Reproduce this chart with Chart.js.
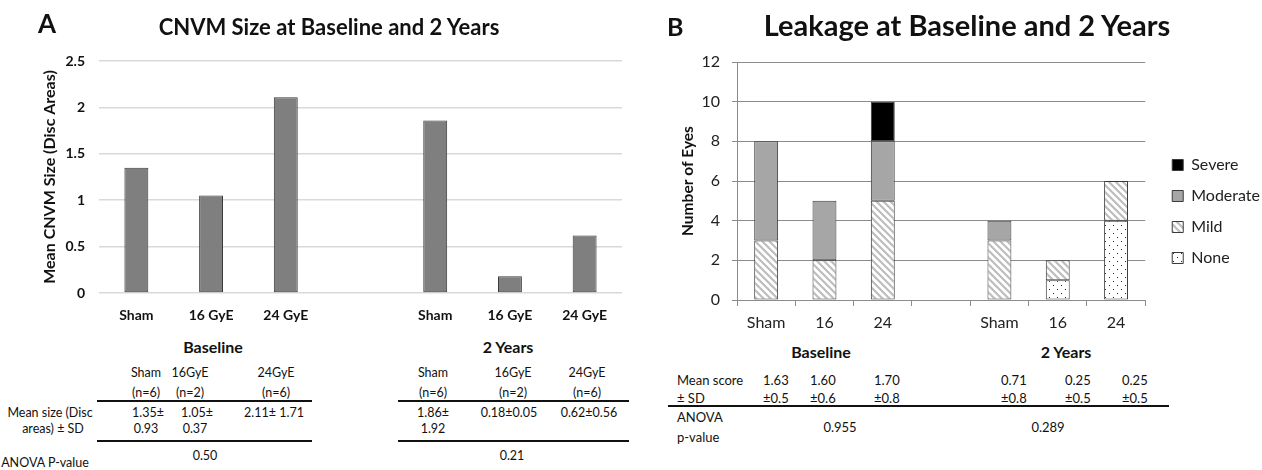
<!DOCTYPE html>
<html>
<head>
<meta charset="utf-8">
<script src="https://cdn.jsdelivr.net/npm/chart.js@4.4.1/dist/chart.umd.min.js"></script>
<style>
  html, body { margin:0; padding:0; background:#fff; }
  #wrap { position:relative; width:1262px; height:470px; overflow:hidden; background:#fff; font-family:Lato, sans-serif; color:#111; }
  canvas { position:absolute; }
  .t { position:absolute; white-space:nowrap; line-height:1; }
  .hr { position:absolute; background:#111; }
</style>
</head>
<body>
<div id="wrap">
  <canvas id="cA" width="640" height="330" style="left:0;top:0"></canvas>
  <canvas id="cB" width="622" height="340" style="left:640px;top:0"></canvas>
</div>
<script>
// ---------- Panel A data ----------
const categoriesA = ['Sham', '16 GyE', '24 GyE', '', 'Sham', '16 GyE', '24 GyE'];
const cnvmMeanSize = [1.35, 1.05, 2.11, null, 1.86, 0.18, 0.62];
const yTickLabelsA = ['0', '0.5', '1', '1.5', '2', '2.5'];

// ---------- Panel B data ----------
const categoriesB = ['Sham', '16', '24', '', 'Sham', '16', '24'];
const leakNone     = [0, 0, 0, null, 0, 1, 4];
const leakMild     = [3, 2, 5, null, 3, 1, 2];
const leakModerate = [5, 3, 3, null, 1, 0, 0];
const leakSevere   = [0, 0, 2, null, 0, 0, 0];
const yTickLabelsB = ['0', '2', '4', '6', '8', '10', '12'];

// ---------- Table texts ----------
const periods = ['Baseline', '2 Years'];
const tableAHeaders = ['Sham', '16GyE', '24GyE'];
const tableAN = ['(n=6)', '(n=2)', '(n=6)'];
const tableAMeanBaseline = ['1.35±', '1.05±', '2.11± 1.71'];
const tableASdBaseline = ['0.93', '0.37', ''];
const tableAMean2y = ['1.86±', '0.18±0.05', '0.62±0.56'];
const tableASd2y = ['1.92', '', ''];
const anovaA = ['0.50', '0.21'];
const tableBMean = ['1.63', '1.60', '1.70', '0.71', '0.25', '0.25'];
const tableBSd = ['±0.5', '±0.6', '±0.8', '±0.8', '±0.5', '±0.5'];
const anovaB = ['0.955', '0.289'];

const wrap = document.getElementById('wrap');
function txt(s, x, y, size, bold, align) {
  const d = document.createElement('div');
  d.className = 't';
  d.textContent = s;
  d.style.left = x + 'px';
  d.style.top = y + 'px';
  d.style.fontSize = size + 'px';
  d.style.fontWeight = bold ? '700' : '400';
  d.style.transform = align === 'left' ? 'translate(0,-50%)' : 'translate(-50%,-50%)';
  wrap.appendChild(d);
}
function hr(x1, x2, y, h) {
  const d = document.createElement('div');
  d.className = 'hr';
  d.style.left = x1 + 'px'; d.style.width = (x2 - x1) + 'px';
  d.style.top = y + 'px'; d.style.height = h + 'px';
  wrap.appendChild(d);
}

// Panel labels and titles
txt('A', 38, 23, 26, true, 'left');
txt('CNVM Size at Baseline and 2 Years', 329, 27, 22, true);
txt('B', 667, 26, 25, true, 'left');
txt('Leakage at Baseline and 2 Years', 967, 24, 29, true);

// Table A
const fsA = 12.5;
txt(periods[0], 213, 347, 16, true);
txt(periods[1], 508, 347, 16, true);
const colA1 = [146, 190, 276], valA1 = [148, 197, 274];
const colA2 = [433, 513, 587], valA2 = [433, 509, 589];
tableAHeaders.forEach((h, i) => {
  txt(h, colA1[i], 373, fsA, false); txt(tableAN[i], colA1[i], 393, fsA, false);
  txt(h, colA2[i], 373, fsA, false); txt(tableAN[i], colA2[i], 393, fsA, false);
  txt(tableAMeanBaseline[i], valA1[i], 413, fsA, false);
  txt(tableASdBaseline[i], valA1[i] - 2, 429, fsA, false);
  txt(tableAMean2y[i], valA2[i], 413, fsA, false);
  txt(tableASd2y[i], valA2[i], 429, fsA, false);
});
hr(97, 312, 400, 2); hr(97, 312, 440, 2);
hr(398, 629, 400, 2); hr(398, 629, 440, 2);
txt('Mean size (Disc', 50, 413, fsA, false);
txt('areas) ± SD', 53, 429, fsA, false);
txt('ANOVA P-value', 45, 463, fsA, false);
txt(anovaA[0], 205, 456, fsA, false);
txt(anovaA[1], 512, 456, fsA, false);

// Table B
txt(periods[0], 821, 352, 16, true);
txt(periods[1], 1066, 352, 16, true);
txt('Mean score', 677, 380, 13, false, 'left');
txt('± SD', 677, 398, 13, false, 'left');
const colB = [763, 810, 874, 1001, 1065, 1122];
tableBMean.forEach((m, i) => {
  txt(m, colB[i], 380, 13, false, 'left');
  txt(tableBSd[i], colB[i], 398, 13, false, 'left');
});
hr(668, 1169, 405, 2);
txt('ANOVA', 677, 417, 13, false, 'left');
txt('p-value', 677, 437, 13, false, 'left');
txt(anovaB[0], 840, 427, 13, false);
txt(anovaB[1], 1048, 427, 13, false);

// ---------- Chart A ----------
Chart.defaults.font.family = 'Lato, sans-serif';
new Chart(document.getElementById('cA'), {
  type: 'bar',
  data: {
    labels: categoriesA,
    datasets: [{
      data: cnvmMeanSize,
      backgroundColor: '#7f7f7f',
      borderColor: '#3a3a3a',
      borderWidth: 1,
      borderSkipped: false,
      barPercentage: 0.32,
      categoryPercentage: 1
    }]
  },
  options: {
    responsive: false,
    animation: false,
    layout: { padding: { top: 61, right: 18, bottom: 0, left: 0 } },
    plugins: { legend: { display: false }, tooltip: { enabled: false } },
    scales: {
      x: {
        grid: { display: false },
        border: { display: false },
        ticks: { font: { size: 14, weight: 'bold' }, color: '#111', padding: 6, maxRotation: 0, autoSkip: false },
        afterFit(s) { s.height = 37; }
      },
      y: {
        min: 0, max: 2.5,
        ticks: { stepSize: 0.5, font: { size: 14, weight: 'bold' }, color: '#111', padding: 14,
                 callback: (v, i) => yTickLabelsA[i] },
        grid: { color: '#d9d9d9', lineWidth: 1.5, drawTicks: false },
        border: { display: false },
        title: { display: true, text: 'Mean CNVM Size (Disc Areas)', color: '#111',
                 font: { size: 16, weight: 'bold' }, padding: { top: 40, bottom: 0 } },
        afterFit(s) { s.width = 99; }
      }
    }
  }
});

// ---------- Chart B ----------
function hatchPattern() {
  const s = 7, c = document.createElement('canvas');
  c.width = s; c.height = s;
  const g = c.getContext('2d');
  g.fillStyle = '#fff'; g.fillRect(0, 0, s, s);
  g.strokeStyle = '#bdbdbd'; g.lineWidth = 2.2;
  g.beginPath();
  g.moveTo(-1, -1); g.lineTo(s + 1, s + 1);
  g.moveTo(-1, s - 1); g.lineTo(1, s + 1);
  g.moveTo(s - 1, -1); g.lineTo(s + 1, 1);
  g.stroke();
  return g.createPattern(c, 'repeat');
}
function dotPattern() {
  const s = 8, c = document.createElement('canvas');
  c.width = s; c.height = s;
  const g = c.getContext('2d');
  g.fillStyle = '#fff'; g.fillRect(0, 0, s, s);
  g.fillStyle = '#222';
  g.fillRect(1, 1, 1, 1); g.fillRect(5, 5, 1, 1);
  return g.createPattern(c, 'repeat');
}

const legendNudge = {
  id: 'legendNudge',
  afterLayout(chart, args, opts) {
    const l = chart.legend; if (!l) return;
    l.left += opts.dx; l.right += opts.dx;
    l.top += opts.dy; l.bottom += opts.dy;
  }
};

const segStyle = { borderColor: '#3a3a3a', borderWidth: 1, borderSkipped: false, barPercentage: 0.41, categoryPercentage: 1 };
new Chart(document.getElementById('cB'), {
  type: 'bar',
  data: {
    labels: categoriesB,
    datasets: [
      Object.assign({ label: 'None', data: leakNone, backgroundColor: dotPattern() }, segStyle),
      Object.assign({ label: 'Mild', data: leakMild, backgroundColor: hatchPattern() }, segStyle),
      Object.assign({ label: 'Moderate', data: leakModerate, backgroundColor: '#a6a6a6' }, segStyle),
      Object.assign({ label: 'Severe', data: leakSevere, backgroundColor: '#000000' }, segStyle)
    ]
  },
  plugins: [legendNudge],
  options: {
    responsive: false,
    animation: false,
    layout: { padding: { top: 62, right: 4, bottom: 0, left: 0 } },
    plugins: {
      tooltip: { enabled: false },
      legendNudge: { dx: 12, dy: 10.5 },
      legend: {
        position: 'right',
        reverse: true,
        labels: { font: { size: 16 }, color: '#222', boxWidth: 11, boxHeight: 11, padding: 15 }
      }
    },
    scales: {
      x: {
        stacked: true,
        grid: { display: true, drawOnChartArea: false, drawTicks: true, tickLength: 6, color: '#8c8c8c', offset: true },
        border: { display: true, color: '#8c8c8c' },
        ticks: { font: { size: 16 }, color: '#222', padding: 7, maxRotation: 0, autoSkip: false },
        afterFit(s) { s.height = 40; }
      },
      y: {
        stacked: true,
        min: 0, max: 12,
        ticks: { stepSize: 2, font: { size: 16 }, color: '#222', padding: 12,
                 callback: (v, i) => yTickLabelsB[i] },
        grid: { color: '#8c8c8c', drawTicks: true, tickLength: 5 },
        border: { display: true, color: '#8c8c8c' },
        title: { display: true, text: 'Number of Eyes', color: '#111',
                 font: { size: 15.5, weight: 'bold' }, padding: { top: 39, bottom: 0 } },
        afterFit(s) { s.width = 97; }
      }
    }
  }
});
</script>
</body>
</html>
